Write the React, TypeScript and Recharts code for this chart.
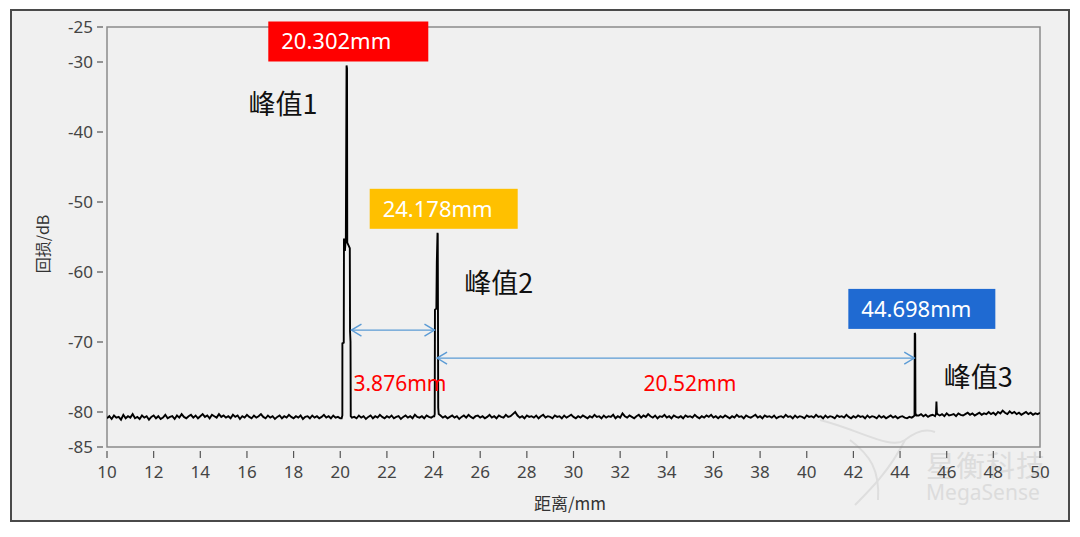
import React from 'react'
import { LineChart, Line, XAxis, YAxis, ReferenceArea, ReferenceLine, ReferenceDot } from 'recharts'

// ---- data ----
const X_TICKS = [10, 12, 14, 16, 18, 20, 22, 24, 26, 28, 30, 32, 34, 36, 38, 40, 42, 44, 46, 48, 50]
const Y_TICKS = [-85, -80, -70, -60, -50, -40, -30, -25]

const NOISE_STEP = 0.1

// noise floor 10.0 .. 20.0
const noise10to20 = [
  -80.9, -80.6, -81.0, -80.5, -80.8, -80.7, -81.1, -80.4, -80.9, -80.6,
  -80.8, -80.3, -80.9, -80.7, -81.0, -80.5, -80.8, -80.6, -81.1, -80.7,
  -80.5, -80.9, -80.6, -81.0, -80.8, -80.4, -80.9, -80.7, -80.6, -81.0,
  -80.5, -80.8, -80.3, -80.7, -80.9, -80.6, -80.4, -80.8, -80.5, -80.9,
  -80.6, -80.3, -80.7, -80.5, -80.9, -80.4, -80.6, -80.8, -80.3, -80.7,
  -80.5, -80.8, -80.6, -80.9, -80.4, -80.7, -80.5, -81.0, -80.6, -80.8,
  -80.4, -80.7, -80.9, -80.5, -80.8, -80.6, -80.3, -80.7, -80.9, -80.5,
  -80.8, -80.6, -81.0, -80.7, -80.5, -80.9, -80.6, -80.8, -80.4, -80.7,
  -80.9, -80.6, -80.8, -80.5, -81.0, -80.7, -80.6, -80.9, -80.5, -80.8,
  -80.6, -80.9, -80.7, -80.4, -80.8, -80.6, -80.9, -80.5, -80.8, -80.7,
  -80.9,
]

// noise floor 20.6 .. 24.0
const noise20to24 = [
  -80.7, -80.9, -80.5, -80.8, -80.6, -81.0, -80.7, -80.5, -80.9, -80.6,
  -80.8, -80.4, -80.7, -80.9, -80.6, -80.8, -80.5, -80.9, -80.7, -80.6,
  -81.0, -80.7, -80.5, -80.8, -80.6, -80.9, -80.4, -80.7, -80.8, -80.6,
  -80.9, -80.5, -80.7, -80.8, -80.6,
]

// noise floor 24.3 .. 44.5
const noise24to44 = [
  -80.5, -80.8, -80.6, -80.9, -80.7, -80.5, -80.8, -80.6, -81.0, -80.7,
  -80.5, -80.8, -80.4, -80.7, -80.9, -80.6, -80.5, -80.8, -80.6, -80.9,
  -80.7, -80.4, -80.8, -80.6, -80.9, -80.5, -80.7, -80.8, -80.4, -80.7,
  -80.6, -80.3, -80.0, -80.5, -80.8, -80.6, -80.9, -80.5, -80.7, -80.6,
  -80.8, -80.5, -80.9, -80.6, -80.4, -80.8, -80.6, -80.7, -80.9, -80.5,
  -80.7, -80.6, -80.9, -80.5, -80.8, -80.6, -80.4, -80.7, -80.9, -80.6,
  -80.8, -80.5, -80.7, -80.9, -80.6, -80.8, -80.4, -80.7, -80.6, -80.9,
  -80.5, -80.8, -80.6, -80.7, -80.4, -80.9, -80.6, -80.8, -80.2, -80.6,
  -80.8, -80.5, -80.7, -80.9, -80.6, -80.4, -80.8, -80.5, -80.7, -80.3,
  -80.6, -80.8, -80.5, -80.9, -80.6, -80.7, -80.4, -80.8, -80.6, -80.9,
  -80.5, -80.7, -80.8, -80.6, -80.9, -80.5, -80.7, -80.6, -80.8, -80.4,
  -80.7, -80.9, -80.6, -80.8, -80.5, -80.7, -80.4, -80.8, -80.6, -80.9,
  -80.6, -80.8, -80.5, -80.7, -80.9, -80.6, -80.8, -80.4, -80.7, -80.6,
  -80.9, -80.5, -80.7, -80.8, -80.6, -80.4, -80.8, -80.6, -80.9, -80.5,
  -80.7, -80.6, -80.8, -80.5, -80.9, -80.7, -80.6, -80.8, -80.4, -80.7,
  -80.6, -80.9, -80.5, -80.8, -80.6, -80.7, -80.9, -80.5, -80.7, -80.6,
  -80.8, -80.4, -80.7, -80.6, -80.9, -80.5, -80.8, -80.6, -80.7, -80.9,
  -80.5, -80.7, -80.6, -80.8, -80.4, -80.7, -80.9, -80.6, -80.8, -80.5,
  -80.7, -80.6, -80.9, -80.5, -80.8, -80.6, -80.7, -80.9, -80.5, -80.8,
  -80.6, -80.9, -80.7, -80.5, -80.8, -80.6, -80.9, -80.7, -80.6, -80.8,
  -80.9, -80.7, -80.8,
]

// noise floor 44.8 .. 50.0
const noise44to50 = [
  -80.5, -80.3, -80.6, -80.4, -80.7, -80.5, -80.4, -80.6, -80.3, -80.5,
  -80.3, -80.6, -80.2, -80.5, -80.4, -80.3, -80.6, -80.2, -80.4, -80.5,
  -80.3, -80.1, -80.4, -80.2, -80.5, -80.3, -80.1, -80.4, -80.2, -80.3,
  -80.0, -80.3, -80.1, -80.4, -80.0, -80.2, -79.8, -80.1, -80.3, -79.9,
  -80.2, -80.0, -80.3, -80.1, -80.4, -80.2, -80.0, -80.3, -80.1, -80.4,
  -80.2, -80.3, -80.1,
]

// reflection peaks [distance mm, dB]
const peak1 = [
  [20.06, -80.9], [20.09, -80.5], [20.092, -70.2], [20.15, -70.1], [20.16, -55.2],
  [20.2, -57.0], [20.24, -55.0], [20.27, -30.5], [20.29, -30.9], [20.3, -55.8],
  [20.41, -56.6], [20.42, -68.5], [20.44, -70.0], [20.45, -80.6], [20.5, -80.8],
]
const peak2 = [
  [24.03, -80.6], [24.05, -80.3], [24.06, -65.4], [24.12, -65.2], [24.14, -58.6],
  [24.17, -54.4], [24.18, -54.6], [24.19, -66.0], [24.2, -79.4], [24.22, -80.3],
]
const peak3 = [
  [44.55, -80.7], [44.62, -80.5], [44.63, -68.7], [44.65, -68.9], [44.66, -80.2], [44.7, -80.5],
]
const bump3 = [[45.54, -80.3], [45.56, -78.5], [45.58, -80.2]]

const peakX = [20.302, 24.178, 44.698]
const peakTopDb = [-30.5, -54.4, -68.7]
const peakLabels = ['20.302mm', '24.178mm', '44.698mm']
const peakNames = ['峰值1', '峰值2', '峰值3']
const gapLabels = ['3.876mm', '20.52mm']

// ---- annotation layout ----
const BOX_COLORS = ['#ff0000', '#ffc000', '#1f6ad2']
const BOX_WIDTHS = [160, 148, 147]
const BOX_DX = [-79, -68, -68]
const NAME_POS = [[17.55, -36.1], [26.8, -61.6], [47.35, -75.0]]
const ARROWS = [
  { x1: 20.48, x2: 24.04, y: -68.3 },
  { x1: 24.15, x2: 44.61, y: -72.3 },
]
const GAP_POS = [[22.56, -75.9], [34.99, -75.9]]

const FONT = '"Noto Sans", "Noto Sans CJK SC", sans-serif'
const CJK = '"Noto Sans CJK SC", "Noto Sans", sans-serif'

function toPoints(values: number[], start: number) {
  return values.map((v, i) => ({ x: Math.round((start + i * NOISE_STEP) * 100) / 100, y: v }))
}

const pairs = (arr: number[][]) => arr.map(([x, y]) => ({ x, y }))

const data = [
  ...toPoints(noise10to20, 10),
  ...pairs(peak1),
  ...toPoints(noise20to24, 20.6),
  ...pairs(peak2),
  ...toPoints(noise24to44, 24.3),
  ...pairs(peak3),
  ...toPoints(noise44to50, 44.8),
  ...pairs(bump3),
].sort((a, b) => a.x - b.x)

function YTick(props: any) {
  const { x, y, payload } = props
  return (
    <g>
      <line x1={x - 10} x2={x - 4} y1={y} y2={y} stroke="#555" strokeWidth={1.2} />
      <text x={x - 14} y={y} dy="0.36em" textAnchor="end" fontSize={17} fill="#444" fontFamily={FONT}>
        {payload.value}
      </text>
    </g>
  )
}

function XTick(props: any) {
  const { x, y, payload } = props
  return (
    <g>
      <line x1={x} x2={x} y1={y + 4} y2={y + 11} stroke="#555" strokeWidth={1.2} />
      <text x={x} y={y + 31} textAnchor="middle" fontSize={17} fill="#444" fontFamily={FONT}>
        {payload.value}
      </text>
    </g>
  )
}

function arrowShape(p: any) {
  const { x1, y1, x2, y2 } = p
  const c = '#5b9bd5'
  return (
    <g>
      <line x1={x1} y1={y1} x2={x2} y2={y2} stroke={c} strokeWidth={1.4} />
      <polyline points={`${x1 + 10},${y1 - 6} ${x1},${y1} ${x1 + 10},${y1 + 6}`} fill="none" stroke={c} strokeWidth={1.4} />
      <polyline points={`${x2 - 10},${y2 - 6} ${x2},${y2} ${x2 - 10},${y2 + 6}`} fill="none" stroke={c} strokeWidth={1.4} />
    </g>
  )
}

export default function App() {
  return (
    <div style={{ position: 'absolute', left: 0, top: 0, width: 1080, height: 537, background: '#fff', overflow: 'hidden' }}>
      {/* outer frame */}
      <div style={{
        position: 'absolute', left: 10, top: 9, width: 1056, height: 509,
        border: '2px solid #4a4a4a', background: '#f0f0f0'
      }} />

      {/* watermark */}
      <svg width={1080} height={537} style={{ position: 'absolute', left: 0, top: 0 }}>
        <g fill="none" stroke="#dedede" strokeWidth={2}>
          <path d="M820 420 C 860 430, 890 450, 905 440 C 915 432, 925 428, 935 432" />
          <path d="M905 440 C 890 470, 870 490, 855 505" />
          <path d="M850 440 C 870 455, 880 470, 878 500" />
        </g>
      </svg>
      <div style={{
        position: 'absolute', left: 926, top: 447, fontSize: 29, color: '#dcdcdc',
        fontFamily: CJK, letterSpacing: 1, lineHeight: '34px'
      }}>星衡科技</div>
      <div style={{
        position: 'absolute', left: 926, top: 479, fontSize: 21, color: '#dcdcdc',
        fontFamily: FONT, lineHeight: '26px'
      }}>MegaSense</div>

      {/* axis titles */}
      <div style={{
        position: 'absolute', left: 42, top: 244, transform: 'translate(-50%, -50%) rotate(-90deg)',
        fontSize: 16, color: '#333', fontFamily: CJK, whiteSpace: 'nowrap'
      }}>回损/dB</div>
      <div style={{
        position: 'absolute', left: 570, top: 502, transform: 'translate(-50%, -50%)',
        fontSize: 17, color: '#333', fontFamily: CJK, whiteSpace: 'nowrap'
      }}>距离/mm</div>

      <div style={{ position: 'absolute', left: 0, top: 0 }}>
        <LineChart width={1080} height={537} data={data} margin={{ top: 27, right: 40, bottom: 60, left: 47 }}>
          <XAxis
            dataKey="x"
            type="number"
            domain={[10, 50]}
            ticks={X_TICKS}
            interval={0}
            allowDataOverflow
            axisLine={false}
            tickLine={false}
            tickSize={0}
            tickMargin={0}
            height={30}
            tick={<XTick />}
          />
          <YAxis
            type="number"
            domain={[-85, -25]}
            ticks={Y_TICKS}
            interval={0}
            allowDataOverflow
            axisLine={false}
            tickLine={false}
            tickSize={0}
            tickMargin={0}
            width={60}
            tick={<YTick />}
          />
          <ReferenceArea x1={10} x2={50} y1={-85} y2={-25} fill="none" stroke="#8a8a8a" strokeWidth={1.5} ifOverflow="visible" />
          <Line
            dataKey="y"
            type="linear"
            stroke="#000"
            strokeWidth={1.9}
            dot={false}
            isAnimationActive={false}
          />

          {ARROWS.map((a, i) => (
            <ReferenceLine
              key={`arrow-${i}`}
              segment={[{ x: a.x1, y: a.y }, { x: a.x2, y: a.y }]}
              ifOverflow="visible"
              shape={arrowShape}
            />
          ))}

          {gapLabels.map((t, i) => (
            <ReferenceDot
              key={`gap-${i}`}
              x={GAP_POS[i][0]}
              y={GAP_POS[i][1]}
              r={0}
              ifOverflow="visible"
              shape={(p: any) => (
                <text x={p.cx} y={p.cy} dy="0.35em" textAnchor="middle" fontSize={21} fill="#ff0000" fontFamily={FONT}>
                  {t}
                </text>
              )}
            />
          ))}

          {peakNames.map((t, i) => (
            <ReferenceDot
              key={`name-${i}`}
              x={NAME_POS[i][0]}
              y={NAME_POS[i][1]}
              r={0}
              ifOverflow="visible"
              shape={(p: any) => (
                <text x={p.cx} y={p.cy} dy="0.36em" textAnchor="middle" fontSize={27} fill="#111" fontFamily={CJK}>
                  {t}
                </text>
              )}
            />
          ))}

          {peakLabels.map((t, i) => (
            <ReferenceDot
              key={`box-${i}`}
              x={peakX[i]}
              y={peakTopDb[i]}
              r={0}
              ifOverflow="visible"
              shape={(p: any) => (
                <g>
                  <rect x={p.cx + BOX_DX[i]} y={p.cy - 44} width={BOX_WIDTHS[i]} height={40} fill={BOX_COLORS[i]} />
                  <text x={p.cx + BOX_DX[i] + 13} y={p.cy - 24} dy="0.36em" textAnchor="start" fontSize={22} fill="#fff" fontFamily={FONT}>
                    {t}
                  </text>
                </g>
              )}
            />
          ))}
        </LineChart>
      </div>
    </div>
  )
}
